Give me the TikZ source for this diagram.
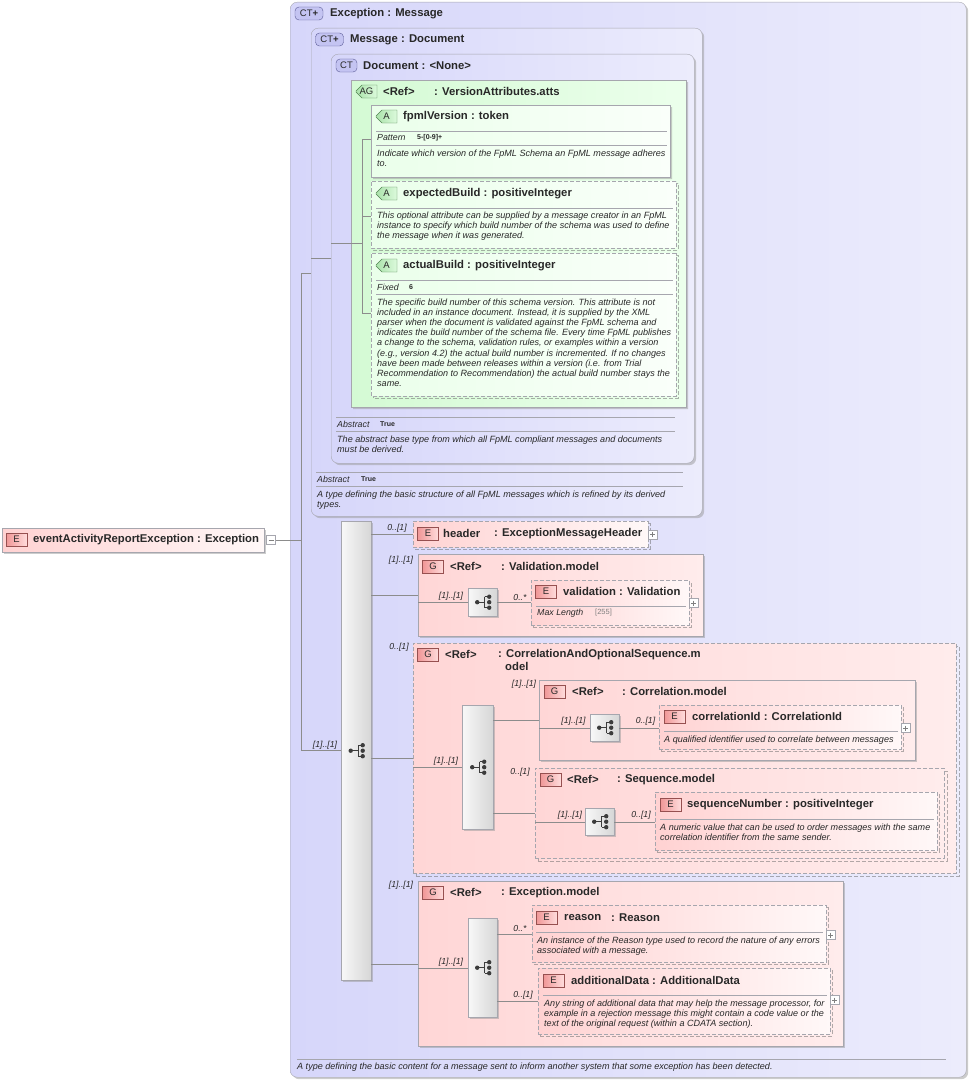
\documentclass[tikz,border=0pt]{standalone}
\usepackage{fontspec}
\setmainfont{Liberation Sans}
\usetikzlibrary{shapes.misc,shadows}

\definecolor{bordgris}{RGB}{166,166,174}
\definecolor{lien}{RGB}{140,140,140}
\definecolor{ctfonce}{RGB}{214,214,250}
\definecolor{ctclair}{RGB}{236,236,252}
\definecolor{agfonce}{RGB}{212,250,212}
\definecolor{agclair}{RGB}{236,255,236}
\definecolor{afonce}{RGB}{234,255,234}
\definecolor{aclair}{RGB}{250,255,250}
\definecolor{efonce}{RGB}{255,210,210}
\definecolor{eclair}{RGB}{255,248,248}
\definecolor{gfonce}{RGB}{255,214,214}
\definecolor{gclair}{RGB}{255,236,236}
\definecolor{barreclair}{RGB}{248,248,248}
\definecolor{barrefonce}{RGB}{214,214,214}
\definecolor{icct}{RGB}{196,196,242}
\definecolor{icctbord}{RGB}{90,90,150}
\definecolor{icvert}{RGB}{170,226,170}
\definecolor{icvertclair}{RGB}{220,250,220}
\definecolor{icvertbord}{RGB}{80,130,80}
\definecolor{icrose}{RGB}{240,150,150}
\definecolor{icroseclair}{RGB}{255,220,220}
\definecolor{icrosebord}{RGB}{150,80,80}
\definecolor{texte}{RGB}{40,40,40}
\definecolor{icseq}{RGB}{60,60,60}

\tikzset{
  boite/.style={rectangle, anchor=north west, inner sep=0pt, draw=bordgris},
  ombre/.style={drop shadow={shadow xshift=2pt, shadow yshift=-2pt, fill=black!40}},
  ombrept/.style={drop shadow={shadow xshift=#1, shadow yshift=-#1, fill=none, draw=black!60, dash pattern=on 4pt off 2pt}},
  ombrept/.default=2pt,
  pointille/.style={dash pattern=on 4pt off 2pt},
  ctboite/.style={boite, rounded corners=7pt, left color=ctfonce, right color=ctclair, ombre},
  agboite/.style={chamfered rectangle, chamfered rectangle corners={north west,south west}, chamfered rectangle xsep=7pt, chamfered rectangle ysep=7pt, inner sep=0pt, draw=bordgris, left color=agfonce, right color=agclair},
  aboite/.style={agboite, chamfered rectangle xsep=6pt, chamfered rectangle ysep=6pt, left color=afonce, right color=aclair},
  eboite/.style={boite, left color=efonce, right color=eclair},
  gboite/.style={boite, left color=gfonce, right color=gclair},
  barre/.style={boite, left color=barreclair, right color=barrefonce, ombre},
  icone/.style={minimum width=21pt, minimum height=13pt, inner sep=0pt, font=\fontsize{9.5}{10}\selectfont, text=texte},
  icct/.style={icone, rectangle, rounded corners=4pt, draw=icctbord, fill=icct},
  icag/.style={icone, chamfered rectangle, chamfered rectangle corners={north west,south west}, chamfered rectangle xsep=3pt, chamfered rectangle ysep=3pt, draw=icvertbord, left color=icvert, right color=icvertclair},
  ice/.style={icone, rectangle, draw=icrosebord, left color=icrose, right color=icroseclair},
  titre/.style={anchor=west, inner sep=0pt, font=\fontsize{11.3}{13}\selectfont\bfseries, text=texte},
  desc/.style={anchor=north west, inner sep=0pt, align=left, font=\fontsize{9.05}{10.15}\selectfont\itshape, text=texte},
  prop/.style={anchor=west, inner sep=0pt, font=\fontsize{8.8}{10}\selectfont\itshape, text=texte},
  valeur/.style={anchor=west, inner sep=0pt, font=\fontsize{7}{8}\selectfont\bfseries, text=texte},
  mult/.style={inner sep=0pt, font=\fontsize{8.7}{10}\selectfont\itshape, text=texte},
  sep/.style={draw=bordgris},
  lien/.style={draw=lien},
  seqicone/.pic={
    \draw[icseq, line width=0.7pt] (-5.5,0) -- (2,0) (2,-5.5) -- (2,5.5) (2,-5.5) -- (6.5,-5.5) (2,5.5) -- (6.5,5.5);
    \fill[icseq] (-5.5,0) circle (2.2) (6.5,-5.5) circle (2.2) (6.5,0) circle (2.2) (6.5,5.5) circle (2.2);
  },
  deplier/.pic={
    \draw[bordgris, fill=white] (-4.5,-4.5) rectangle (4.5,4.5);
    \draw[gray] (-2.5,0) -- (2.5,0) (0,-2.5) -- (0,2.5);
  },
  replier/.pic={
    \draw[bordgris, fill=white] (-4.5,-4.5) rectangle (4.5,4.5);
    \draw[gray] (-2.5,0) -- (2.5,0);
  },
}

\begin{document}
\begin{tikzpicture}[x=1pt,y=-1pt]
% Cadre :
\useasboundingbox (0,0) rectangle (969,1081);

% Types complexes :
\node[ctboite, minimum width=676pt, minimum height=1075pt] (exc) at (290,2) {};
\node[ctboite, minimum width=391pt, minimum height=488pt] (msg) at (311,28) {};
\node[ctboite, minimum width=363pt, minimum height=409pt] (doc) at (331,54) {};

% Groupe d'attributs :
\node[agboite, ombre, minimum width=335pt, minimum height=327pt] (ag) at (518.5,243.5) {};
\node[aboite, ombre, minimum width=299pt, minimum height=72pt] (fpml) at (520.5,141) {};
\node[aboite, pointille, ombrept, minimum width=305pt, minimum height=67pt] (expb) at (523.5,214.5) {};
\node[aboite, pointille, ombrept, minimum width=305pt, minimum height=143pt] (actb) at (523.5,324.5) {};

% Element racine :
\node[eboite, ombre, minimum width=262pt, minimum height=24pt] (racine) at (2,528) {};
\pic at (271,540) {replier};
\coordinate (moins) at (276,540);

% Sequences et groupes :
\node[barre, minimum width=30pt, minimum height=459pt] (seq) at (341,521) {};
\node[eboite, pointille, ombrept, minimum width=235pt, minimum height=26pt] (hdr) at (413,521) {};
\node[gboite, ombre, minimum width=285pt, minimum height=82pt] (valg) at (418,554) {};
\node[barre, minimum width=29pt, minimum height=28pt] (valseq) at (468,588) {};
\node[eboite, pointille, ombrept, minimum width=158pt, minimum height=45pt] (vale) at (531,580) {};
\node[gboite, pointille, ombrept=3pt, minimum width=543pt, minimum height=230pt] (corg) at (413,643) {};
\node[barre, minimum width=31pt, minimum height=124pt] (corseq) at (462,705) {};
\node[gboite, ombre, minimum width=376pt, minimum height=80pt] (corm) at (539,680) {};
\node[barre, minimum width=29pt, minimum height=27pt] (cormseq) at (590,714) {};
\node[eboite, pointille, ombrept, minimum width=242pt, minimum height=44pt] (corid) at (659,705) {};
\node[gboite, pointille, ombrept=3pt, minimum width=409pt, minimum height=90pt] (seqm) at (535,768) {};
\node[barre, minimum width=29pt, minimum height=27pt] (seqmseq) at (585,808) {};
\node[eboite, pointille, ombrept, minimum width=282pt, minimum height=58pt] (seqnum) at (655,792) {};
\node[gboite, ombre, minimum width=425pt, minimum height=165pt] (excg) at (418,881) {};
\node[barre, minimum width=29pt, minimum height=99pt] (excseq) at (468,918) {};
\node[eboite, pointille, ombrept, minimum width=294pt, minimum height=57pt] (reason) at (532,905) {};
\node[eboite, pointille, ombrept, minimum width=292pt, minimum height=66pt] (addd) at (538,968) {};

% Icones de sequence :
\foreach \s in {seq,valseq,corseq,cormseq,seqmseq,excseq}
  \pic at (\s) {seqicone};
\foreach \p in {(652.5,534.5),(693.5,603),(905.5,728),(830.5,935),(834.5,1000)}
  \pic at \p {deplier};

% Liens :
\coordinate (jmsg) at (301,273);
\coordinate (jseq) at (301,750);
\coordinate (jdoc) at (311,258);
\coordinate (jag) at (331,243);
\coordinate (ag1) at (362,139);
\coordinate (ag2) at (362,216);
\coordinate (ag3) at (362,313);
\draw[lien] (moins) -- (moins -| jmsg);
\draw[lien] (jmsg) -- (jseq);
\draw[lien] (jmsg) -- (jmsg -| msg.west);
\draw[lien] (jseq) -- (jseq -| seq.west);
\draw[lien] (jdoc) -- (jdoc -| doc.west);
\draw[lien] (jag) -- (jag -| ag1);
\draw[lien] (ag1) -- (ag3);
\draw[lien] (ag1) -- (ag1 -| fpml.west);
\draw[lien] (ag2) -- (ag2 -| expb.west);
\draw[lien] (ag3) -- (ag3 -| actb.west);
\draw[lien] (seq.east |- hdr.west) -- (hdr.west);
\draw[lien] (seq.east |- valg.west) -- (valg.west);
\draw[lien] (seq.east |- corg.west) -- (corg.west);
\draw[lien] (seq.east |- excg.west) -- (excg.west);
\draw[lien] (valg.west |- valseq.west) -- (valseq.west);
\draw[lien] (valseq.east) -- (valseq.east -| vale.west);
\draw[lien] (corg.west |- corseq.west) -- (corseq.west);
\draw[lien] (corseq.east |- corm.west) -- (corm.west);
\draw[lien] (corseq.east |- seqm.west) -- (seqm.west);
\draw[lien] (corm.west |- cormseq.west) -- (cormseq.west);
\draw[lien] (cormseq.east) -- (cormseq.east -| corid.west);
\draw[lien] (seqm.west |- seqmseq.west) -- (seqmseq.west);
\draw[lien] (seqmseq.east) -- (seqmseq.east -| seqnum.west);
\draw[lien] (excg.west |- excseq.west) -- (excseq.west);
\draw[lien] (excseq.east |- reason.west) -- (reason.west);
\draw[lien] (excseq.east |- addd.west) -- (addd.west);

% Separateurs :
\draw[sep] (376,131) -- (667,131) (376,145) -- (667,145);
\draw[sep] (376,208) -- (673,208);
\draw[sep] (376,280) -- (673,280) (376,294) -- (673,294);
\draw[sep] (336,417) -- (675,417) (336,431) -- (675,431);
\draw[sep] (316,472) -- (683,472) (316,486) -- (683,486);
\draw[sep] (536,606) -- (686,606);
\draw[sep] (664,731) -- (898,731);
\draw[sep] (660,819) -- (934,819);
\draw[sep] (536,932) -- (823,932);
\draw[sep] (543,995) -- (827,995);
\draw[sep] (297,1059) -- (946,1059);

% Icones :
\node[icct, minimum width=28pt] (iexc) at (309,13.5) {CT\textbf{+}};
\node[icct, minimum width=28pt] (imsg) at (329.5,39.5) {CT\textbf{+}};
\node[icct] (idoc) at (346.5,65.5) {CT};
\node[icag] (iag) at (366.5,91.5) {AG};
\node[icag] (ifpml) at (386.5,116.5) {A};
\node[icag] (iexpb) at (386.5,193.5) {A};
\node[icag] (iactb) at (386.5,265.5) {A};
\node[ice] (iracine) at (16.5,539.5) {E};
\node[ice] (ihdr) at (428,533.5) {E};
\node[ice] (ivalg) at (433,566.5) {G};
\node[ice] (ivale) at (546,591.5) {E};
\node[ice] (icorg) at (428,654.5) {G};
\node[ice] (icorm) at (554.5,691.5) {G};
\node[ice] (icorid) at (674.5,716.5) {E};
\node[ice] (iseqm) at (550.5,779.5) {G};
\node[ice] (iseqnum) at (670.5,804.5) {E};
\node[ice] (iexcg) at (433,892.5) {G};
\node[ice] (ireason) at (546.5,917.5) {E};
\node[ice] (iaddd) at (553.5,980.5) {E};

% Titres :
\node[titre] (texc) at (330,13.5) {Exception : Message};
\node[titre] (tmsg) at (350,39.5) {Message : Document};
\node[titre] (tdoc) at (363,65.5) {Document : <None>};
\node[titre] (tag) at (383,91.5) {<Ref>};
\node[titre] (tagt) at (434,91.5) {: VersionAttributes.atts};
\node[titre] (tfpml) at (403,116.5) {fpmlVersion : token};
\node[titre] (texpb) at (403,193.5) {expectedBuild : positiveInteger};
\node[titre] (tactb) at (403,265.5) {actualBuild : positiveInteger};
\node[titre] (tracine) at (33,539.5) {eventActivityReportException : Exception};
\node[titre] (thdr) at (443,533.5) {header};
\node[titre] (thdrt) at (494,533.5) {: ExceptionMessageHeader};
\node[titre] (tvalg) at (450,566.5) {<Ref>};
\node[titre] (tvalgt) at (501,566.5) {: Validation.model};
\node[titre] (tvale) at (563,591.5) {validation : Validation};
\node[titre] (tcorg) at (445,654.5) {<Ref>};
\node[titre] (tcorgt) at (498,654.5) {: CorrelationAndOptionalSequence.m};
\node[titre] (tcorgs) at (505,666.5) {odel};
\node[titre] (tcorm) at (572,691.5) {<Ref>};
\node[titre] (tcormt) at (622,691.5) {: Correlation.model};
\node[titre] (tcorid) at (692,716.5) {correlationId : CorrelationId};
\node[titre] (tseqm) at (567,779.5) {<Ref>};
\node[titre] (tseqmt) at (617,779.5) {: Sequence.model};
\node[titre] (tseqnum) at (687,804.5) {sequenceNumber : positiveInteger};
\node[titre] (texcg) at (450,892.5) {<Ref>};
\node[titre] (texcgt) at (501,892.5) {: Exception.model};
\node[titre] (treason) at (564,917.5) {reason};
\node[titre] (treasont) at (611,917.5) {: Reason};
\node[titre] (taddd) at (571,980.5) {additionalData : AdditionalData};

% Proprietes :
\node[prop] (pfpml) at (377,138) {Pattern};
\node[valeur] (vfpml) at (417,138) {5-[0-9]+};
\node[prop] (pactb) at (377,287) {Fixed};
\node[valeur] (vactb) at (409,287) {6};
\node[prop] (pdoc) at (337,424) {Abstract};
\node[valeur] (vdoc) at (380,424) {True};
\node[prop] (pmsg) at (317,479) {Abstract};
\node[valeur] (vmsg) at (361,479) {True};
\node[prop] (pvale) at (537,613) {Max Length};
\node[prop, font=\fontsize{7.5}{8}\selectfont, text=gray] (vvale) at (595,613) {[255]};

% Descriptions :
\node[desc] (dfpml) at (377,149.5) {Indicate which version of the FpML Schema an FpML message adheres\\to.};
\node[desc] (dexpb) at (377,211.5) {This optional attribute can be supplied by a message creator in an FpML\\instance to specify which build number of the schema was used to define\\the message when it was generated.};
\node[desc] (dactb) at (377,298.5) {The specific build number of this schema version. This attribute is not\\included in an instance document. Instead, it is supplied by the XML\\parser when the document is validated against the FpML schema and\\indicates the build number of the schema file. Every time FpML publishes\\a change to the schema, validation rules, or examples within a version\\(e.g., version 4.2) the actual build number is incremented. If no changes\\have been made between releases within a version (i.e. from Trial\\Recommendation to Recommendation) the actual build number stays the\\same.};
\node[desc] (ddoc) at (337,435.5) {The abstract base type from which all FpML compliant messages and documents\\must be derived.};
\node[desc] (dmsg) at (317,490.5) {A type defining the basic structure of all FpML messages which is refined by its derived\\types.};
\node[desc] (dcorid) at (664,735.5) {A qualified identifier used to correlate between messages};
\node[desc] (dseqnum) at (660,823.5) {A numeric value that can be used to order messages with the same\\correlation identifier from the same sender.};
\node[desc] (dreason) at (537,936.5) {An instance of the Reason type used to record the nature of any errors\\associated with a message.};
\node[desc] (daddd) at (544,999.5) {Any string of additional data that may help the message processor, for\\example in a rejection message this might contain a code value or the\\text of the original request (within a CDATA section).};
\node[desc] (dexc) at (297,1062.5) {A type defining the basic content for a message sent to inform another system that some exception has been detected.};

% Cardinalites :
\node[mult] (mseq) at (325,745) {[1]..[1]};
\node[mult] (mhdr) at (397,528) {0..[1]};
\node[mult] (mvalg) at (401,560) {[1]..[1]};
\node[mult] (mvalseq) at (451,596) {[1]..[1]};
\node[mult] (mvale) at (520,597) {0..*};
\node[mult] (mcorg) at (399,647) {0..[1]};
\node[mult] (mcorseq) at (446,761) {[1]..[1]};
\node[mult] (mcorm) at (524,684) {[1]..[1]};
\node[mult] (mcormseq) at (573.5,721) {[1]..[1]};
\node[mult] (mcorid) at (645.5,721) {0..[1]};
\node[mult] (mseqm) at (520,772) {0..[1]};
\node[mult] (mseqmseq) at (570,815) {[1]..[1]};
\node[mult] (mseqnum) at (641,815) {0..[1]};
\node[mult] (mexcg) at (401,885) {[1]..[1]};
\node[mult] (mexcseq) at (451,962) {[1]..[1]};
\node[mult] (mreason) at (520,928) {0..*};
\node[mult] (maddd) at (523,995) {0..[1]};
\end{tikzpicture}
\end{document}
